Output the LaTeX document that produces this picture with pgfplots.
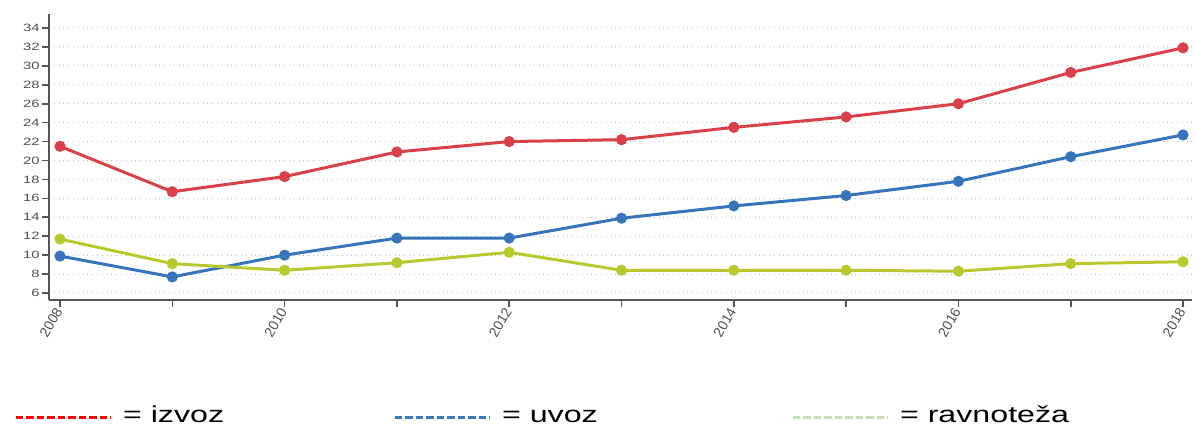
\documentclass[border=0pt]{standalone}
\usepackage{pgfplots}
\pgfplotsset{compat=1.18}
\usepackage{fontspec}
\setmainfont{Liberation Sans}
\newfontfamily\widefont[FakeStretch=1.4]{Liberation Sans}
\definecolor{izC}{RGB}{217,64,72}
\definecolor{uvC}{RGB}{54,117,185}
\definecolor{raC}{RGB}{184,201,48}
\definecolor{legR}{RGB}{255,0,0}
\definecolor{legB}{RGB}{58,120,192}
\definecolor{legG}{RGB}{197,224,180}
\definecolor{axisC}{RGB}{85,85,85}
\definecolor{gridC}{RGB}{185,185,185}
\definecolor{labelC}{RGB}{80,80,80}
\begin{document}
\begin{tikzpicture}
\begin{axis}[
  scale only axis, width=571.5pt, height=143pt,
  xmin=2007.902, xmax=2018.08, ymin=5.26, ymax=35.48,
  axis x line*=bottom, axis y line*=left,
  axis line style={draw=axisC, line width=1pt},
  xtick={2008,2010,2012,2014,2016,2018},
  xticklabels={2008,2010,2012,2014,2016,2018},
  minor xtick={2009,2011,2013,2015,2017},
  ytick={6,8,...,34},
  tick align=outside, major tick length=3.5pt, minor tick length=3.5pt,
  tick style={draw=axisC, line width=0.8pt},
  ymajorgrids, major grid style={dotted, draw=gridC, line width=0.5pt},
  /pgf/number format/assume math mode=true,
  yticklabel style={font=\widefont\fontsize{5.3}{6}\selectfont, text=labelC, inner sep=1pt},
  xticklabel style={font=\fontsize{7}{8}\selectfont, text=labelC, rotate=60, anchor=east, inner sep=1pt},
  clip=false,
  legend columns=3,
  legend style={draw=none, fill=none, at={(axis description cs:-0.0306,-0.374)}, anchor=north west,
    inner sep=0pt, outer sep=0pt, column sep=0pt, row sep=0pt,
    nodes={inner sep=0pt, anchor=base west, text height=8pt, text depth=2pt,
      font=\widefont\fontsize{11.5}{13}\selectfont}},
  legend image code/.code={\draw[#1, line width=1.5pt, dash pattern=on 3.75pt off 1.5pt] (0pt,2.5pt) -- (47.5pt,2.5pt);},
]
\addlegendimage{color=legR}
\addlegendentry{\makebox[140.5pt][l]{\hspace*{5.5pt}= izvoz}}
\addlegendimage{color=legB}
\addlegendentry{\makebox[150pt][l]{\hspace*{5.5pt}= uvoz}}
\addlegendimage{color=legG}
\addlegendentry{\hspace*{5.5pt}= ravnoteža}

\addplot[color=izC, line width=1.5pt, mark=*, mark size=2pt, forget plot] coordinates {
(2008,21.5) (2009,16.7) (2010,18.3) (2011,20.9) (2012,22.0) (2013,22.2) (2014,23.5) (2015,24.6) (2016,26.0) (2017,29.3) (2018,31.9)};
\addplot[color=uvC, line width=1.5pt, mark=*, mark size=2pt, forget plot] coordinates {
(2008,9.9) (2009,7.7) (2010,10.0) (2011,11.8) (2012,11.8) (2013,13.9) (2014,15.2) (2015,16.3) (2016,17.8) (2017,20.4) (2018,22.7)};
\addplot[color=raC, line width=1.5pt, mark=*, mark size=2pt, forget plot] coordinates {
(2008,11.7) (2009,9.1) (2010,8.4) (2011,9.2) (2012,10.3) (2013,8.4) (2014,8.4) (2015,8.4) (2016,8.3) (2017,9.1) (2018,9.3)};
\end{axis}
\pgfresetboundingbox
\path[use as bounding box] (-24.5pt,-63pt) rectangle (573pt,150pt);
\end{tikzpicture}
\end{document}
